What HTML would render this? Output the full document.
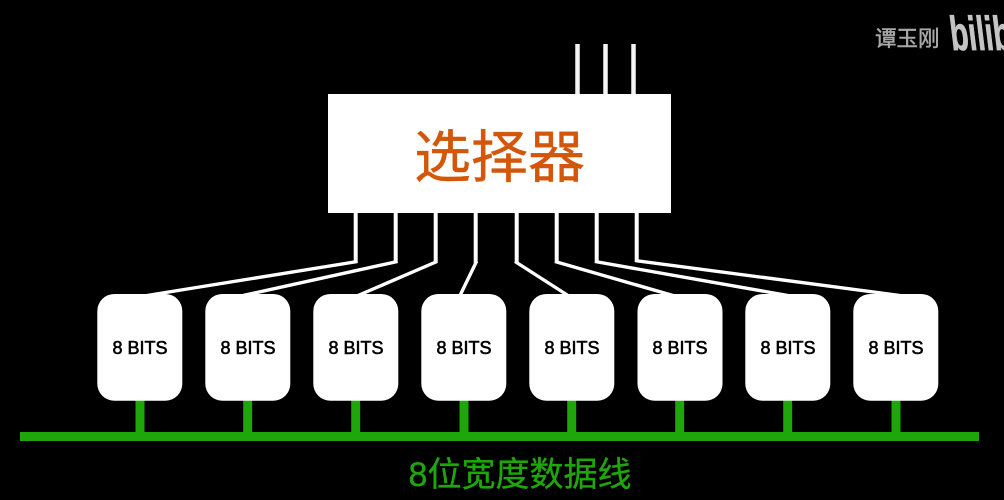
<!DOCTYPE html>
<html lang="zh">
<head>
<meta charset="utf-8">
<style>
html,body{margin:0;padding:0;background:#000;width:1004px;height:500px;overflow:hidden}
svg{display:block}
text{font-family:"Liberation Sans","Noto Sans CJK SC",sans-serif}
</style>
</head>
<body>
<svg width="1004" height="500" viewBox="0 0 1004 500" xmlns="http://www.w3.org/2000/svg">
<rect width="1004" height="500" fill="#000"/>
<g stroke="#f4f4f4" stroke-width="4.5" fill="none">
<path d="M577.5 44V96M605.5 44V96M633.5 44V96"/>
</g>
<g stroke="#fff" stroke-width="4" fill="none">
<path d="M355.7 212V263M395.7 212V263M435.7 212V263M475.7 212V263M516.7 212V263M556.7 212V263M596.7 212V263M636.7 212V262"/>
</g>
<g stroke="#fff" stroke-width="3.4" fill="none">
<path d="M357.5 261.5L147 295.5"/>
<path d="M397.5 261.5L243 295.5"/>
<path d="M437 261.5L358 295.5"/>
<path d="M476.5 261.5L460 295.5"/>
<path d="M515 261.5L568 295.5"/>
<path d="M555 261.5L673 295.5"/>
<path d="M595 261.5L788 295.5"/>
<path d="M635 260.5L900 295.5"/>
</g>
<rect x="328" y="94" width="343" height="119" fill="#fff"/>
<text x="499.5" y="177" font-size="57" fill="#d2570a" stroke="#d2570a" stroke-width="0.4" text-anchor="middle">选择器</text>
<g fill="#1fa60a">
<rect x="20" y="432" width="959" height="9"/>
<rect x="135.5" y="400" width="9" height="33"/>
<rect x="243.2" y="400" width="9" height="33"/>
<rect x="351.2" y="400" width="9" height="33"/>
<rect x="459.5" y="400" width="9" height="33"/>
<rect x="567.2" y="400" width="9" height="33"/>
<rect x="675.2" y="400" width="9" height="33"/>
<rect x="783.2" y="400" width="9" height="33"/>
<rect x="891.5" y="400" width="9" height="33"/>
</g>
<g fill="#fff">
<rect x="97.3" y="294" width="85" height="106.7" rx="17"/>
<rect x="205.3" y="294" width="85" height="106.7" rx="17"/>
<rect x="313.3" y="294" width="85" height="106.7" rx="17"/>
<rect x="421.3" y="294" width="85" height="106.7" rx="17"/>
<rect x="529.3" y="294" width="85" height="106.7" rx="17"/>
<rect x="637.5" y="294" width="85" height="106.7" rx="17"/>
<rect x="745.3" y="294" width="85" height="106.7" rx="17"/>
<rect x="853.3" y="294" width="85" height="106.7" rx="17"/>
</g>
<g font-size="18" fill="#000" text-anchor="middle" stroke="#000" stroke-width="0.6">
<text x="140" y="354">8 BITS</text>
<text x="248" y="354">8 BITS</text>
<text x="356" y="354">8 BITS</text>
<text x="464" y="354">8 BITS</text>
<text x="572" y="354">8 BITS</text>
<text x="680" y="354">8 BITS</text>
<text x="788" y="354">8 BITS</text>
<text x="896" y="354">8 BITS</text>
</g>
<text x="520" y="486" font-size="34" fill="#1fa60a" stroke="#1fa60a" stroke-width="0.35" text-anchor="middle">8位宽度数据线</text>
<text x="875" y="46" font-size="21.5" fill="#a8a8a8" stroke="#a8a8a8" stroke-width="0.5">谭玉刚</text>
<text x="0" y="0" font-size="48" font-weight="700" fill="#c4c4c4" stroke="#c4c4c4" stroke-width="0.8" transform="translate(952 50) skewX(7) scale(0.62 1)">bilib</text>
</svg>
</body>
</html>
